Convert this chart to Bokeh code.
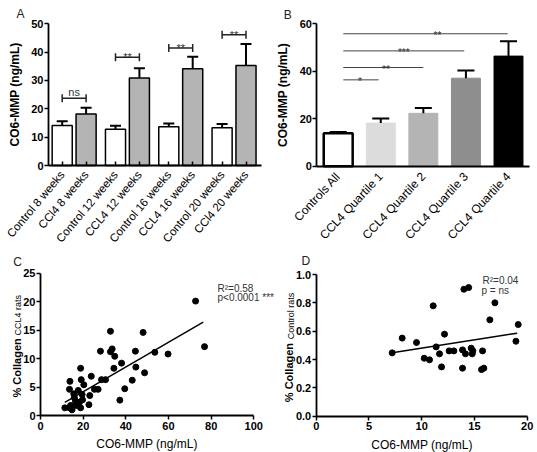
import math
from bokeh.plotting import figure
from bokeh.models import (ColumnDataSource, Whisker, TeeHead, Label, Range1d,
                          FixedTicker, PrintfTickFormatter)
from bokeh.layouts import row, column
from bokeh.embed import file_html
from bokeh.resources import INLINE
from bokeh.core.properties import value

FONT = "Liberation Sans"

# ---------------- Panel A data ----------------
a_labels = ["Control 8 weeks", "CCl4 8 weeks", "Control 12 weeks", "CCL4 12 weeks",
            "Control 16 weeks", "CCL4 16 weeks", "Control 20 weeks", "CCl4 20 weeks"]
a_means = [14.1, 18.2, 12.8, 30.9, 13.7, 34.1, 13.3, 35.3]
a_sem = [1.5, 2.2, 1.2, 3.4, 1.1, 4.3, 1.3, 7.6]
a_colors = ["white", "#b4b4b4", "white", "#b4b4b4", "white", "#b4b4b4", "white", "#b4b4b4"]
a_sig_left = [0, 2, 4, 6]
a_sig_right = [1, 3, 5, 7]
a_sig_y = [23.7, 38.2, 41.5, 46.1]
a_sig_text = ["ns", "**", "**", "**"]
a_yticks = [0, 10, 20, 30, 40, 50]

# ---------------- Panel B data ----------------
b_labels = ["Controls All", "CCL4 Quartile 1", "CCL4 Quartile 2", "CCL4 Quartile 3", "CCL4 Quartile 4"]
b_means = [13.9, 18.2, 22.3, 37.1, 46.4]
b_sem = [0.5, 1.9, 2.3, 3.2, 6.3]
b_colors = ["white", "#dcdcdc", "#b4b4b4", "#8e8e8e", "black"]
b_sig_x0 = [0.12, 0.12, 0.12, 0.12]
b_sig_x1 = [0.95, 2.0, 2.96, 3.98]
b_sig_y = [36.4, 41.6, 48.6, 55.8]
b_sig_text = ["*", "**", "***", "**"]
b_sig_tx = [0.51, 1.12, 1.54, 2.33]
b_yticks = [0, 20, 40, 60]

# ---------------- Panel C data ----------------
c_x = [72.7, 76.9, 32.8, 48.1, 28.1, 33.6, 32.8, 44.5, 53.6, 59.8, 34.8, 38.0, 34.4, 44.7,
       18.8, 48.8, 23.8, 19.1, 28.6, 30.5, 43.0, 13.8, 20.3, 13.6, 17.7, 25.3, 27.0, 39.5,
       15.6, 19.5, 23.1, 15.9, 37.2, 22.7, 11.4, 13.6, 14.8, 16.9, 18.3, 18.8, 19.7, 16.4, 14.1]
c_y = [20.1, 12.1, 14.8, 14.6, 11.3, 11.7, 11.2, 11.3, 11.1, 10.8, 10.4, 9.2, 8.3, 8.5,
       8.3, 7.5, 6.9, 6.3, 6.3, 6.3, 6.2, 6.0, 5.4, 4.6, 4.4, 4.6, 4.6, 4.7,
       3.8, 3.7, 3.5, 3.1, 2.7, 1.9, 1.35, 1.35, 1.0, 1.76, 2.35, 1.35, 2.76, 2.5, 1.76]
c_fit_x = [11.4, 76.3]
c_fit_y = [2.3, 16.4]
c_stats = ["R\u00b2=0.58", "p<0.0001 ***"]
c_xticks = [0, 20, 40, 60, 80, 100]
c_yticks = [0, 5, 10, 15, 20, 25]

# ---------------- Panel D data ----------------
d_x = [7.2, 8.15, 9.51, 10.24, 10.74, 11.09, 11.37, 11.69, 11.88, 12.16, 12.6, 13.05, 13.87,
       13.87, 14.0, 14.45, 14.15, 14.69, 14.79, 14.85, 15.77, 15.67, 15.89, 16.46, 16.94,
       18.93, 19.15]
d_y = [0.447, 0.551, 0.52, 0.409, 0.398, 0.779, 0.489, 0.44, 0.348, 0.579, 0.461, 0.461, 0.468,
       0.339, 0.896, 0.908, 0.44, 0.48, 0.44, 0.461, 0.461, 0.329, 0.339, 0.68, 0.8,
       0.529, 0.647]
d_fit_x = [7.2, 19.05]
d_fit_y = [0.447, 0.586]
d_stats = ["R\u00b2=0.04", "p = ns"]
d_xticks = [0, 5, 10, 15, 20]
d_yticks = [0.0, 0.2, 0.4, 0.6, 0.8, 1.0]


class Geo:
    """Maps canvas pixels (x right, y down) of one panel to its data space."""
    def __init__(self, W, H, xd, xp, yd, yp):
        self.W, self.H = W, H
        self.xd, self.xp, self.yd, self.yp = xd, xp, yd, yp
        self.sx = (xp[1] - xp[0]) / (xd[1] - xd[0])
        self.sy = (yp[0] - yp[1]) / (yd[1] - yd[0])

    def x(self, px):
        return self.xd[0] + (px - self.xp[0]) / self.sx

    def y(self, py):
        return self.yd[0] + (self.yp[0] - py) / self.sy

    def xr(self):
        return Range1d(self.x(0), self.x(self.W))

    def yr(self):
        return Range1d(self.y(self.H), self.y(0))


def base_fig(g):
    p = figure(width=g.W, height=g.H, x_range=g.xr(), y_range=g.yr(),
               output_backend="svg", toolbar_location=None,
               min_border=0, min_border_left=0, min_border_right=0,
               min_border_top=0, min_border_bottom=0)
    p.xgrid.visible = False
    p.ygrid.visible = False
    p.outline_line_color = None
    p.background_fill_color = None
    p.border_fill_color = None
    for ax in (p.xaxis[0], p.yaxis[0]):
        ax.axis_line_width = 1.8
        ax.axis_line_color = "black"
        ax.major_tick_line_width = 1.5
        ax.major_tick_line_color = "black"
        ax.major_tick_out = 4
        ax.major_tick_in = 0
        ax.minor_tick_line_color = None
        ax.major_label_text_font = FONT
        ax.major_label_text_font_size = "11px"
        ax.major_label_text_font_style = "bold"
        ax.major_label_text_color = "black"
        ax.major_label_standoff = 2
        ax.axis_label_text_font = FONT
        ax.axis_label_text_font_style = "normal"
        ax.axis_label_text_color = "black"
    return p


def text_at(p, g, txt, px, py, size, style="normal", color="#222", angle=0.0):
    p.add_layout(Label(x=g.x(px), y=g.y(py), text=txt, angle=angle,
                       text_font=FONT, text_font_size=size, text_font_style=style,
                       text_color=color, text_baseline="alphabetic", text_align="left"))


# ================= Panel A =================
a_pos = [round(i + 0.23 * (i // 2), 2) for i in range(len(a_labels))]
ga = Geo(270, 246, (a_pos[0], a_pos[-1]), (61.7, 245.5), (0, 50), (165, 23.3))
pa = base_fig(ga)
src_a = ColumnDataSource(dict(x=a_pos, top=a_means,
                              upper=[m + s for m, s in zip(a_means, a_sem)],
                              color=a_colors))
pa.vbar(x="x", top="top", width=0.84, fill_color="color", line_color="black",
        line_width=1.5, source=src_a)
pa.add_layout(Whisker(source=src_a, base="x", lower="top", upper="upper", dimension="height",
                      line_width=2, line_color="black", level="overlay",
                      upper_head=TeeHead(size=11, line_width=2, line_color="black"),
                      lower_head=None))
src_as = ColumnDataSource(dict(
    x0=[a_pos[i] for i in a_sig_left], x1=[a_pos[i] for i in a_sig_right],
    xm=[(a_pos[i] + a_pos[j]) / 2 for i, j in zip(a_sig_left, a_sig_right)],
    y=a_sig_y, t=a_sig_text,
    dy=[-6 if t == "ns" else 0 for t in a_sig_text]))
pa.add_layout(Whisker(source=src_as, base="y", lower="x0", upper="x1", dimension="width",
                      line_width=1.5, line_color="#222", level="overlay",
                      lower_head=TeeHead(size=8, line_width=1.5, line_color="#222"),
                      upper_head=TeeHead(size=8, line_width=1.5, line_color="#222")))
pa.text(x="xm", y="y", text="t", source=src_as, text_font=value(FONT), text_font_size="11px",
        text_align="center", text_baseline="alphabetic", y_offset="dy", text_color="#333")
pa.xaxis.fixed_location = 0
pa.xaxis.bounds = (ga.x(48), ga.x(261))
pa.yaxis.fixed_location = ga.x(48)
pa.yaxis.bounds = (0, 50)
pa.xaxis.ticker = FixedTicker(ticks=a_pos)
pa.xaxis.major_label_overrides = {p: l for p, l in zip(a_pos, a_labels)}
pa.xaxis.major_label_orientation = math.radians(50)
pa.xaxis.major_label_text_font_style = "normal"
pa.xaxis.major_label_text_font_size = "11.5px"
pa.xaxis.major_label_standoff = 7
pa.xaxis.major_tick_in = 4
pa.xaxis.major_tick_out = 0
pa.yaxis.ticker = FixedTicker(ticks=a_yticks)
pa.yaxis.axis_label = "CO6-MMP (ng/mL)"
pa.yaxis.axis_label_text_font_style = "bold"
pa.yaxis.axis_label_text_font_size = "12px"
pa.yaxis.axis_label_standoff = 6
pa.yaxis.major_label_standoff = 1
text_at(pa, ga, "A", 16, 13.5, "12px")

# ================= Panel B =================
b_pos = list(range(len(b_labels)))
gb = Geo(267, 246, (0, 4), (67.7, 238), (0, 60), (165.8, 23.3))
pb = base_fig(gb)
src_b = ColumnDataSource(dict(x=b_pos, top=b_means,
                              upper=[m + s for m, s in zip(b_means, b_sem)],
                              color=b_colors,
                              lc=["black"] + b_colors[1:],
                              lw=[2.5, 1, 1, 1, 1]))
pb.vbar(x="x", top="top", width=0.68, fill_color="color", line_color="lc",
        line_width="lw", source=src_b)
pb.add_layout(Whisker(source=src_b, base="x", lower="top", upper="upper", dimension="height",
                      line_width=2, line_color="black", level="overlay",
                      upper_head=TeeHead(size=17, line_width=2, line_color="black"),
                      lower_head=None))
src_bs = ColumnDataSource(dict(x0=b_sig_x0, x1=b_sig_x1, y=b_sig_y, t=b_sig_text, tx=b_sig_tx))
pb.segment(x0="x0", y0="y", x1="x1", y1="y", source=src_bs, line_color="#444", line_width=1)
pb.text(x="tx", y="y", text="t", source=src_bs, text_font=value(FONT), text_font_size="10px",
        text_align="center", text_baseline="alphabetic", y_offset=2, text_color="#333")
pb.xaxis.fixed_location = 0
pb.xaxis.bounds = (-0.5, 4.5)
pb.yaxis.fixed_location = -0.5
pb.yaxis.bounds = (0, 60)
pb.xaxis.ticker = FixedTicker(ticks=b_pos)
pb.xaxis.major_label_overrides = {p: l for p, l in zip(b_pos, b_labels)}
pb.xaxis.major_label_orientation = math.radians(47)
pb.xaxis.major_label_text_font_style = "normal"
pb.xaxis.major_label_text_font_size = "12px"
pb.xaxis.major_tick_in = 0
pb.xaxis.major_tick_out = 0
pb.xaxis.major_label_standoff = 8
pb.yaxis.ticker = FixedTicker(ticks=b_yticks)
pb.yaxis.axis_label = "CO6-MMP (ng/mL)"
pb.yaxis.axis_label_text_font_style = "bold"
pb.yaxis.axis_label_text_font_size = "12px"
pb.yaxis.axis_label_standoff = 6
pb.yaxis.major_label_standoff = 1
text_at(pb, gb, "B", 13.3, 14, "12px")

# ================= Panel C =================
gc = Geo(295, 206, (0, 100), (40, 253.3), (0, 25), (169, 26.7))
pc = base_fig(gc)
pc.scatter(c_x, c_y, size=6, color="black")
pc.line(c_fit_x, c_fit_y, line_color="black", line_width=1.5)
pc.xaxis.fixed_location = 0
pc.xaxis.bounds = (0, 100)
pc.yaxis.fixed_location = 0
pc.yaxis.bounds = (0, 25)
pc.xaxis.ticker = FixedTicker(ticks=c_xticks)
pc.yaxis.ticker = FixedTicker(ticks=c_yticks)
pc.yaxis.major_label_standoff = 1
pc.xaxis.axis_label = "CO6-MMP (ng/mL)"
pc.xaxis.axis_label_text_font_size = "12px"
pc.xaxis.axis_label_standoff = 4
text_at(pc, gc, c_stats[0], 217, 42, "10px", color="#333")
text_at(pc, gc, c_stats[1], 217, 51, "10px", color="#333")
text_at(pc, gc, "% Collagen", 16, 151, "11px", style="bold", color="black", angle=math.pi / 2)
text_at(pc, gc, "CCL4 rats", 17.5, 89, "9px", color="black", angle=math.pi / 2)
text_at(pc, gc, "C", 12.7, 15.7, "12px")

# ================= Panel D =================
gd = Geo(267, 206, (0, 20), (45.7, 256.7), (0, 1.0), (169.7, 28))
pdd = base_fig(gd)
pdd.margin = (0, 0, 0, -25)
pdd.scatter(d_x, d_y, size=6, color="black")
pdd.line(d_fit_x, d_fit_y, line_color="black", line_width=1.5)
pdd.xaxis.fixed_location = 0
pdd.xaxis.bounds = (0, 20)
pdd.yaxis.fixed_location = 0
pdd.yaxis.bounds = (0, 1.0)
pdd.xaxis.ticker = FixedTicker(ticks=d_xticks)
pdd.yaxis.ticker = FixedTicker(ticks=d_yticks)
pdd.yaxis.formatter = PrintfTickFormatter(format="%.1f")
pdd.yaxis.major_label_standoff = 1
pdd.xaxis.axis_label = "CO6-MMP (ng/mL)"
pdd.xaxis.axis_label_text_font_size = "12px"
pdd.xaxis.axis_label_standoff = 4
text_at(pdd, gd, d_stats[0], 212, 34, "10px", color="#333")
text_at(pdd, gd, d_stats[1], 211, 44, "10px", color="#333")
text_at(pdd, gd, "% Collagen", 18.5, 155.7, "11px", style="bold", color="black", angle=math.pi / 2)
text_at(pdd, gd, "Control rats", 20.5, 92.7, "9px", color="black", angle=math.pi / 2)
text_at(pdd, gd, "D", 31, 14, "12px")

layout = column(row(pa, pb), row(pc, pdd))
open("out.html", "w").write(file_html(layout, INLINE))
